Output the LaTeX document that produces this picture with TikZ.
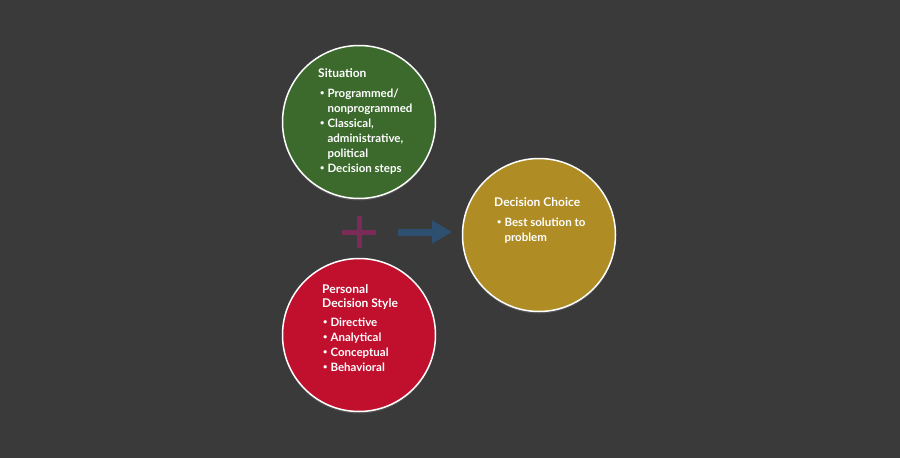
\documentclass[tikz,border=0pt]{standalone}
\usepackage{fontspec}
\setmainfont{Lato}
\usetikzlibrary{arrows.meta,shadows}
\definecolor{bgdark}{HTML}{3A3A3A}
\definecolor{sitgreen}{HTML}{3C6A2D}
\definecolor{stylered}{HTML}{C0102E}
\definecolor{choicegold}{HTML}{B08C25}
\definecolor{plusplum}{HTML}{7A2B58}
\definecolor{arrowblue}{HTML}{2E5070}
\newcommand{\bul}{\raisebox{1.2pt}{\scalebox{0.65}{\textbullet}}}
\tikzset{
  bubble/.style={circle, draw=white, line width=1.5, minimum size=153, inner sep=0,
    drop shadow={opacity=0.35, shadow xshift=0pt, shadow yshift=-2pt}},
  caption/.style={anchor=base west, text=white, inner sep=0,
    font=\bfseries\fontsize{12}{14}\selectfont, align=left},
  bullets/.style={anchor=base west, text=white, inner sep=0,
    font=\bfseries\fontsize{11.5}{15}\selectfont},
}
\begin{document}
\begin{tikzpicture}[x=1pt, y=-1pt]
      \fill[bgdark] (0,0) rectangle (900,458);
      \node[bubble, fill=sitgreen]   (sit)    at (359,122) {};
      \node[bubble, fill=stylered]   (style)  at (359,335) {};
      \node[bubble, fill=choicegold] (choice) at (539,235) {};
      % texts
      \node[caption] (sittitle) at (318,77) {Situation};
      \node[bullets] (sitlist)  at (320,97) {\begin{tabular}[t]{@{}l@{\hspace{3pt}}l@{}}
        \bul & Programmed/\\ & nonprogrammed\\
        \bul & Classical,\\ & administrative,\\ & political\\
        \bul & Decision steps\end{tabular}};
      \node[caption] (styletitle) at (322,307) {Personal\\Decision Style};
      \node[bullets] (stylelist)  at (323,326) {\begin{tabular}[t]{@{}l@{\hspace{3pt}}l@{}}
        \bul & Directive\\ \bul & Analytical\\ \bul & Conceptual\\ \bul & Behavioral\end{tabular}};
      \node[caption] (choicetitle) at (494,206) {Decision Choice};
      \node[bullets] (choicelist)  at (497,226) {\begin{tabular}[t]{@{}l@{\hspace{3pt}}l@{}}
        \bul & Best solution to\\ & problem\end{tabular}};
      % plus and arrow
      \coordinate (plusL) at (342,232);
      \coordinate (plusR) at (376,232);
      \coordinate (plusT) at (359,216);
      \coordinate (plusB) at (359,248);
      \draw[plusplum, line width=5] (plusL) -- (plusR);
      \draw[plusplum, line width=5] (plusT) -- (plusB);
      \coordinate (arrtail) at (398,232);
      \coordinate (arrtip)  at (452,232);
      \draw[arrowblue, line width=7, -{Triangle[length=20pt, width=22pt]}] (arrtail) -- (arrtip);
\end{tikzpicture}
\end{document}
